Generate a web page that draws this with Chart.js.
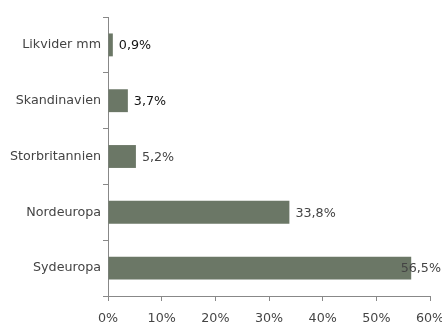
<!DOCTYPE html>
<html>
<head>
<meta charset="utf-8">
<script src="https://cdn.jsdelivr.net/npm/chart.js@4"></script>
<style>
  html, body { margin: 0; padding: 0; background: #fff; }
  #wrap { width: 442px; height: 325px; }
</style>
</head>
<body>
<div id="wrap"><canvas id="chart" width="442" height="325"></canvas></div>
<script>
const regions = ['Likvider mm', 'Skandinavien', 'Storbritannien', 'Nordeuropa', 'Sydeuropa'];
const shares = [0.9, 3.7, 5.2, 33.8, 56.5];
const labelColors = ['#111', '#111', '#444', '#444', '#444'];

const fmt = v => v.toFixed(1).replace('.', ',') + '%';
const textFont = { family: 'DejaVu Sans', size: 12.7 };

// value text at the end of each bar
const barValues = {
  id: 'barValues',
  afterDatasetsDraw(chart) {
    const ctx = chart.ctx;
    const meta = chart.getDatasetMeta(0);
    ctx.save();
    ctx.font = textFont.size + 'px "DejaVu Sans"';
    ctx.textBaseline = 'middle';
    meta.data.forEach((bar, i) => {
      const txt = fmt(shares[i]);
      const w = ctx.measureText(txt).width;
      let x = bar.x + 6;
      if (x + w > chart.width - 1) x = chart.width - 1 - w;
      ctx.fillStyle = labelColors[i];
      ctx.fillText(txt, x, bar.y + 1);
    });
    ctx.restore();
  }
};

const chart = document.querySelector('#chart').getContext('2d');

new Chart(chart, {
  type: 'bar',
  data: {
    labels: regions,
    datasets: [{
      data: shares,
      backgroundColor: '#6b7766',
      barPercentage: 0.82,
      categoryPercentage: 0.5
    }]
  },
  options: {
    indexAxis: 'y',
    responsive: false,
    animation: false,
    layout: { padding: { top: 17, right: 12, left: 0, bottom: 0 } },
    plugins: { legend: { display: false }, tooltip: { enabled: false } },
    scales: {
      x: {
        min: 0,
        max: 60,
        ticks: {
          stepSize: 10,
          callback: v => v + '%',
          color: '#444',
          font: textFont,
          padding: 10
        },
        grid: { drawOnChartArea: false, tickLength: 5, color: '#888' },
        border: { color: '#888' },
        afterFit: s => { s.height = 29; s.paddingLeft = 0; s.paddingRight = 0; }
      },
      y: {
        ticks: {
          color: '#444',
          font: textFont,
          padding: 2
        },
        grid: { drawOnChartArea: false, tickLength: 5, offset: true, color: '#888' },
        border: { color: '#888' },
        afterFit: s => { s.width = 108; s.paddingTop = 0; s.paddingBottom = 0; }
      }
    }
  },
  plugins: [barValues]
});
</script>
</body>
</html>
